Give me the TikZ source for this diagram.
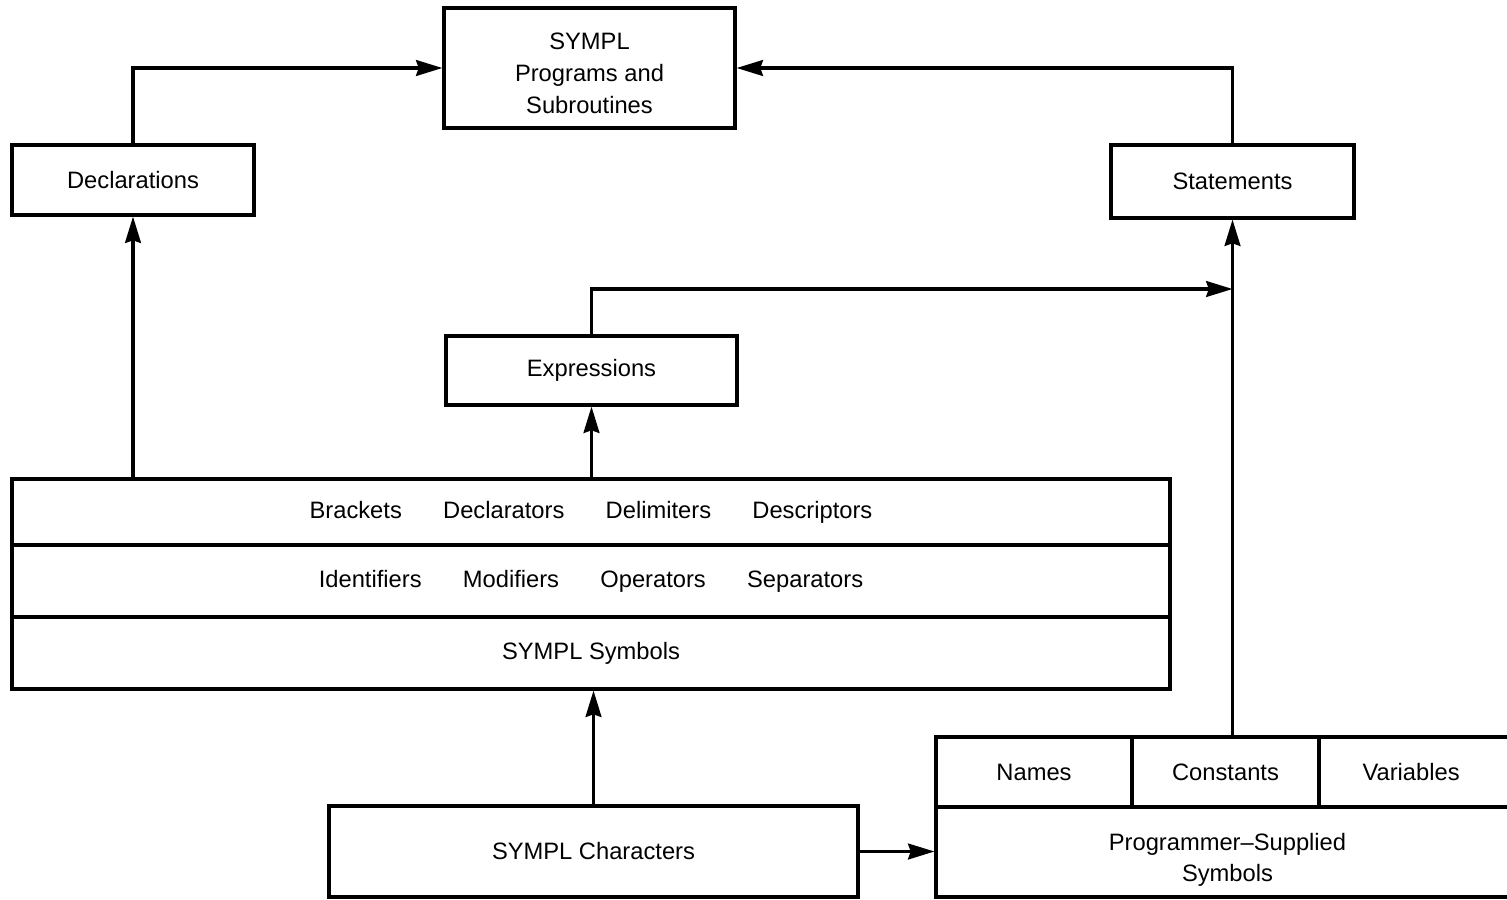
\documentclass[tikz,border=0pt]{standalone}
\usepackage{fontspec}
\setmainfont{Liberation Sans}
\usetikzlibrary{arrows.meta}
\tikzset{
  txt/.style   = {align=center,font=\fontsize{13.5}{18}\selectfont},
  blk/.style   = {draw,line width=1.8pt,inner sep=0pt,txt},
  wh/.style 2 args = {minimum width=#1*0.02cm,minimum height=#2*0.02cm},
  arr/.style   = {-{Stealth[length=15pt,width=9pt,inset=1.5pt]},line width=1.8pt}
}
\newcommand{\gap}{\hspace{23.5pt}}

\begin{document}
\begin{tikzpicture}[x=0.02cm,y=-0.02cm]
  \useasboundingbox (0,0) rectangle (1507,899);
  \clip (0,0) rectangle (1507,899);
  % upper part
  \node[blk,wh={291}{120}] (prog) at (589.5,68) {};
  \node[txt] at ([yshift=-3pt]prog.center) {SYMPL\\Programs and\\Subroutines};
  \node[blk,wh={242}{70}]  (decl) at (133,180)    {Declarations};
  \node[blk,wh={243}{73}]  (stat) at (1232.5,181.5) {Statements};
  \node[blk,wh={291}{69}]  (expr) at (591.5,370.5) {Expressions};
  % the three rows of symbols
  \node[blk,wh={1158}{66}] (rowA) at (591,512)
        {Brackets\gap Declarators\gap Delimiters\gap Descriptors};
  \node[blk,wh={1158}{72}] (rowB) at (591,581)
        {Identifiers\gap Modifiers\gap Operators\gap Separators};
  \node[blk,wh={1158}{72}] (rowC) at (591,653) {SYMPL Symbols};
  % lower part
  \node[blk,wh={529}{91}]  (chars) at (593.5,851.5) {SYMPL Characters};
  \node[blk,wh={196}{70}]  (names) at (1034,772)   {Names};
  \node[blk,wh={187}{70}]  (const) at (1225.5,772) {Constants};
  \node[blk,wh={200}{70}]  (vars)  at (1419,772)   {\hspace*{-9pt}Variables};
  \node[blk,wh={583}{90}]  (psup)  at (1227.5,852) {};
  \node[txt] at ([yshift=-4.5pt]psup.center) {Programmer--Supplied\\Symbols};
  \coordinate (tee) at (1232.5,289);

  \draw[arr] (decl.north) |- (prog.west);
  \draw[arr] (stat.north) |- (prog.east);
  \draw[arr] (rowA.north -| decl.south) -- (decl.south);
  \draw[arr] (rowA.north -| expr.south) -- (expr.south);
  \draw[arr] (expr.north) |- (tee);
  \draw[arr] (const.north -| stat.south) -- (stat.south);
  \draw[arr] (chars.north) -- (rowC.south -| chars.north);
  \draw[arr] (chars.east) -- (chars.east -| psup.west);
\end{tikzpicture}
\end{document}
